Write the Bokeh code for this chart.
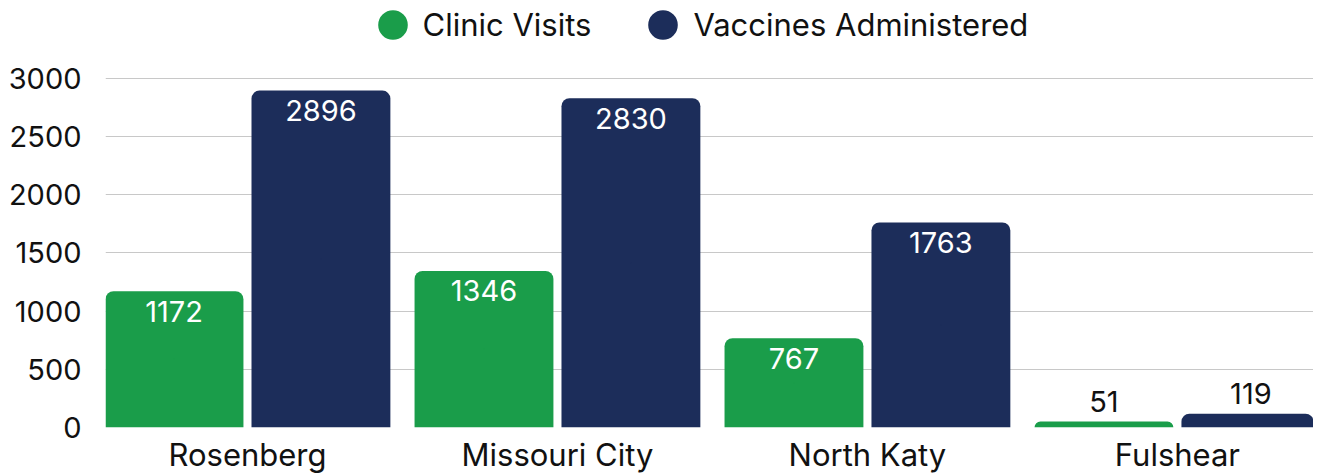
from bokeh.plotting import figure
from bokeh.models import (ColumnDataSource, Range1d, FixedTicker, Legend, LegendItem)
from bokeh.core.properties import value
from bokeh.transform import dodge
from bokeh.embed import file_html
from bokeh.resources import INLINE

categories = ["Rosenberg", "Missouri City", "North Katy", "Fulshear"]
clinic_visits = [1172, 1346, 767, 51]
vaccines = [2896, 2830, 1763, 119]
y_ticks = [0, 500, 1000, 1500, 2000, 2500, 3000]

GREEN = "#1a9d4a"
NAVY = "#1c2d5a"
TEXT = "#111111"
FONT = "Inter"
FS_TXT = "31px"
FS_NUM = "29px"

idx = list(range(len(categories)))
DODGE = 0.237
BW = 0.448

p = figure(width=1313, height=476, output_backend="svg", toolbar_location=None,
           x_range=Range1d(-0.458, 3.439), y_range=Range1d(0, 3670),
           min_border_left=105, min_border_right=0, min_border_top=0, min_border_bottom=49)
p.outline_line_color = None
p.background_fill_color = "white"
p.border_fill_color = "white"


def make_src(vals):
    small = [v < 300 for v in vals]
    return ColumnDataSource(dict(
        x=idx, top=vals, mid=[v / 2 for v in vals], label=[str(v) for v in vals],
        color=[TEXT if s else "white" for s in small],
        yoff=[-20 if s else 20 for s in small],
    ))


s1 = make_src(clinic_visits)
s2 = make_src(vaccines)

p.vbar(x=dodge("x", -DODGE), top="top", width=BW, source=s1, fill_color=GREEN,
       line_color=None, border_radius=(8, 8, 0, 0))
p.vbar(x=dodge("x", DODGE), top="top", width=BW, source=s2, fill_color=NAVY,
       line_color=None, border_radius=(8, 8, 0, 0))

for s, d in ((s1, -DODGE), (s2, DODGE)):
    p.text(x=dodge("x", d), y="top", text="label", source=s, text_color="color",
           y_offset="yoff", text_align="center", text_baseline="middle",
           text_font=value(FONT), text_font_size=FS_NUM)

# legend markers: 1px ellipses hidden inside the bars; the legend draws a full circle
m1 = p.ellipse(x=dodge("x", -DODGE), y="mid", source=s1, width=1, height=1,
               width_units="screen", height_units="screen",
               fill_color=GREEN, line_color=None)
m2 = p.ellipse(x=dodge("x", DODGE), y="mid", source=s2, width=1, height=1,
               width_units="screen", height_units="screen",
               fill_color=NAVY, line_color=None)

legend = Legend(items=[LegendItem(label="Clinic Visits", renderers=[m1]),
                       LegendItem(label="Vaccines Administered", renderers=[m2])],
                location=(268.5, 384.5), orientation="horizontal",
                glyph_width=37, glyph_height=37, label_standoff=12, spacing=53,
                padding=0, margin=0, background_fill_alpha=0, border_line_alpha=0,
                label_text_font=FONT, label_text_font_size=FS_TXT, label_text_color=TEXT)
p.add_layout(legend, "center")

p.xaxis.ticker = FixedTicker(ticks=idx)
p.xaxis.major_label_overrides = {i: c for i, c in zip(idx, categories)}
p.xaxis.axis_line_color = None
p.xaxis.major_tick_line_color = None
p.xaxis.minor_tick_line_color = None
p.xaxis.major_tick_out = 0
p.xaxis.major_tick_in = 0
p.xaxis.major_label_text_font = FONT
p.xaxis.major_label_text_font_size = FS_TXT
p.xaxis.major_label_text_color = TEXT
p.xaxis.major_label_standoff = 8
p.xgrid.grid_line_color = None

p.yaxis.ticker = FixedTicker(ticks=y_ticks)
p.yaxis.axis_line_color = None
p.yaxis.major_tick_line_color = None
p.yaxis.minor_tick_line_color = None
p.yaxis.major_tick_out = 0
p.yaxis.major_tick_in = 0
p.yaxis.major_label_text_font = FONT
p.yaxis.major_label_text_font_size = FS_NUM
p.yaxis.major_label_text_color = TEXT
p.yaxis.major_label_standoff = 24
p.ygrid.grid_line_color = "#c8c8c8"
p.ygrid.grid_line_width = 1
p.ygrid.level = "underlay"

open("out.html", "w").write(file_html(p, INLINE))
